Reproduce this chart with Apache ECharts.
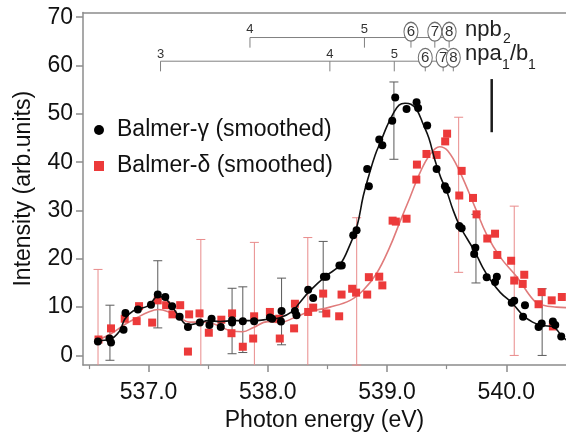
<!DOCTYPE html>
<html>
<head>
<meta charset="utf-8">
<script src="https://cdn.jsdelivr.net/npm/echarts@6/dist/echarts.min.js"></script>
<style>html,body{margin:0;padding:0;background:#fff;}#c{width:566px;height:437px;}</style>
</head>
<body>
<div id="c"></div>
<script>
// ---- data ----
const gammaE = [536.575,536.672,536.685,536.79,536.806,536.91,537.02,537.077,537.14,537.197,537.26,537.33,537.43,537.51,537.528,537.605,537.70,537.70,537.79,537.885,538.017,538.036,538.11,538.115,538.227,538.24,538.338,538.38,538.47,538.49,538.60,538.62,538.716,538.744,538.833,538.847,538.934,538.96,539.043,539.068,539.163,539.247,539.26,539.336,539.415,539.485,539.50,539.605,539.625,539.73,539.74,539.835,539.905,539.92,540.045,540.066,540.14,540.156,540.27,540.296,540.39,540.41,540.46];
const gammaV = [2.9,3.5,2.7,5.3,8.8,9.5,10.5,12.6,12.1,10.2,8.0,5.9,6.8,6.3,7.6,5.9,7.3,6.8,7.1,7.1,7.85,7.6,7.0,9.2,9.2,8.3,13.6,11.9,16.3,16.3,18.6,18.6,24.9,25.9,38.6,35.0,44.7,43.5,48.6,53.4,51.0,52.4,51.2,47.6,38.6,35.0,34.3,26.8,26.3,21.0,22.3,16.2,15.2,16.3,10.9,11.3,8.0,10.4,5.9,6.6,7.0,6.3,3.9];

const deltaE = [536.58,536.685,536.80,536.90,536.92,537.03,537.077,537.147,537.20,537.265,537.33,537.34,537.427,537.505,537.61,537.695,537.70,537.79,537.877,537.885,538.017,538.095,538.10,538.22,538.227,538.338,538.38,538.464,538.49,538.598,538.618,538.707,538.74,538.833,538.847,538.934,538.96,539.046,539.073,539.163,539.245,539.25,539.33,539.415,539.487,539.503,539.605,539.625,539.72,539.75,539.84,539.905,539.924,540.04,540.066,540.137,540.15,540.27,540.296,540.38,540.39,540.465];
const deltaV = [3.3,5.6,7.6,7.1,10.2,6.8,11.4,10.4,8.5,10.4,0.8,8.5,8.7,4.7,7.4,4.6,8.7,1.8,3.5,8.1,9.0,7.6,3.5,5.6,10.7,9.0,9.9,12.8,8.7,8.1,12.6,13.8,13.0,12.6,16.2,16.3,14.5,27.9,27.7,28.3,36.4,39.5,41.7,41.5,44.3,45.9,33.1,38.2,32.6,29.2,24.2,25.2,20.8,19.6,15.5,14.8,16.7,10.6,13.1,11.4,6.0,12.1];

const gammaFitE = [536.575,536.672,536.756,536.80,536.87,537.0,537.077,537.13,537.2,537.26,537.33,537.42,537.5,537.6,537.7,537.8,537.9,538.0,538.1,538.2,538.27,538.35,538.49,538.60,538.69,538.75,538.80,538.85,538.90,538.95,539.00,539.05,539.10,539.15,539.20,539.25,539.30,539.35,539.40,539.45,539.50,539.55,539.605,539.67,539.74,539.80,539.87,539.95,540.05,540.14,540.22,540.30,540.39,540.45,540.5];
const gammaFitV = [3.1,3.3,5.0,7.5,9.2,10.3,12.2,12.0,10.0,7.9,6.3,6.7,7.2,7.0,7.2,7.2,7.2,7.5,7.8,9.0,11.0,13.3,16.5,18.6,23.0,27.0,33.0,37.5,41.5,44.5,47.5,50.0,51.8,52.2,52.0,50.8,48.0,45.0,40.5,36.8,34.0,30.3,27.0,24.2,21.3,18.3,15.5,13.0,10.8,8.3,6.9,6.2,6.0,4.5,3.2];

const deltaFitE = [536.574,536.685,536.80,536.91,537.0,537.08,537.17,537.26,537.34,537.45,537.51,537.60,537.70,537.79,537.88,538.00,538.10,538.22,538.34,538.52,538.69,538.80,538.91,539.02,539.11,539.19,539.275,539.36,539.44,539.51,539.61,539.74,539.835,539.95,540.09,540.23,540.31,540.42,540.5];
const deltaFitV = [3.2,4.5,6.4,7.9,9.0,9.5,9.0,7.9,6.9,6.9,6.8,6.0,5.0,4.9,5.8,7.0,6.8,7.8,9.0,10.0,11.4,13.5,16.9,22.3,27.8,32.6,37.8,41.6,43.2,42.3,38.0,30.5,25.0,20.3,16.2,11.4,10.4,10.0,9.9];

const gammaErrE  = [536.676,537.077,537.70,537.79,538.115,538.464,539.057,539.745,540.30];
const gammaErrLo = [-1.0,5.7,0.35,0.6,2.2,9.0,40.6,15.0,0.0];
const gammaErrHi = [10.4,19.6,13.9,14.2,16.0,23.6,56.6,29.2,13.8];

const deltaErrE  = [536.576,537.438,537.887,538.335,538.745,539.60,540.066];
const deltaErrLo = [-12,-6.6,-7,-6,-2,17.2,0.0];
const deltaErrHi = [17.8,24.0,23.4,24.4,28.5,49.3,30.9];

const npb2E = [537.85,538.81,539.20,539.40,539.52];
const npb2Labels = ['4','5','6','7','8'];
const npaE = [537.10,538.52,539.06,539.32,539.47,539.555];
const npaLabels = ['3','4','5','6','7','8'];

const markerE = 539.877, markerLo = 46.2, markerHi = 57.2;

const xTicks = [537,538,539,540];
const xMinorTicks = [536.5,537.5,538.5,539.5];
const yTicks = [0,10,20,30,40,50,60,70];

// ---- chart ----
const FONT = "'Liberation Sans', Arial, Helvetica, sans-serif";
const XMIN = 536.45, XMAX = 540.5, YMIN = -2, YMAX = 71;
const axisGray = '#8c8c8c';

function zip(a, b) { return a.map((v, i) => [v, b[i]]); }
function zip3(a, b, c) { return a.map((v, i) => [v, b[i], c[i]]); }

function errRender(color, hw) {
  return function (params, api) {
    const x = api.value(0);
    let lo = api.value(1), hi = api.value(2);
    const clipLo = lo < YMIN;
    if (clipLo) lo = YMIN;
    const t = api.coord([x, hi]);
    const b = api.coord([x, lo]);
    const st = { stroke: color, lineWidth: 1 };
    const ch = [
      { type: 'line', shape: { x1: t[0], y1: t[1], x2: b[0], y2: b[1] }, style: st },
      { type: 'line', shape: { x1: t[0] - hw, y1: t[1], x2: t[0] + hw, y2: t[1] }, style: st }
    ];
    if (!clipLo) ch.push({ type: 'line', shape: { x1: b[0] - hw, y1: b[1], x2: b[0] + hw, y2: b[1] }, style: st });
    return { type: 'group', children: ch };
  };
}

function textEl(x, y, text, size, color, align) {
  return { type: 'text', x: x, y: y, style: { text: text, fill: color, font: size + 'px ' + FONT,
    align: align || 'center', verticalAlign: 'middle', textAlign: align || 'center', textVerticalAlign: 'middle' } };
}

function ladder(api, E, labels, lineV, tickV, labelV, circV, circledFrom) {
  const ch = [];
  const st = { stroke: '#808080', lineWidth: 1 };
  const a = api.coord([E[0], lineV]), z = api.coord([E[E.length - 1], lineV]);
  ch.push({ type: 'line', shape: { x1: a[0], y1: a[1], x2: z[0], y2: z[1] }, style: st });
  E.forEach((e, i) => {
    const p = api.coord([e, lineV]), q = api.coord([e, tickV]);
    ch.push({ type: 'line', shape: { x1: p[0], y1: p[1], x2: q[0], y2: q[1] }, style: st });
    if (i >= circledFrom) {
      const c = api.coord([e, circV]);
      ch.push({ type: 'circle', x: c[0], y: c[1], scaleY: 1.35, shape: { cx: 0, cy: 0, r: 7 },
        style: { fill: '#fff', stroke: '#707070', lineWidth: 1 } });
      ch.push(textEl(c[0], c[1] + 0.5, labels[i], 15, '#333'));
    } else {
      const c = api.coord([e, labelV]);
      ch.push(textEl(c[0], c[1], labels[i], 13, '#333'));
    }
  });
  return ch;
}

function annotRender(params, api) {
  let ch = [];
  ch = ch.concat(ladder(api, npaE, npaLabels, 60.9, 58.8, 62.4, 61.6, 3));
  ch = ch.concat(ladder(api, npb2E, npb2Labels, 65.8, 63.7, 67.5, 67.0, 2));
  const n1 = api.coord([539.653, 66.0]);
  ch.push(textEl(n1[0], n1[1] - 7, 'npb', 22, '#222', 'left'));
  ch.push(textEl(n1[0] + 38, n1[1] + 3, '2', 14, '#222', 'left'));
  const n2 = api.coord([539.653, 60.9]);
  ch.push(textEl(n2[0], n2[1] - 7, 'npa', 22, '#222', 'left'));
  ch.push(textEl(n2[0] + 37, n2[1] + 4, '1', 14, '#222', 'left'));
  ch.push(textEl(n2[0] + 45, n2[1] - 7, '/b', 22, '#222', 'left'));
  ch.push(textEl(n2[0] + 63, n2[1] + 4, '1', 14, '#222', 'left'));
  const m1 = api.coord([markerE, markerHi]), m2 = api.coord([markerE, markerLo]);
  ch.push({ type: 'line', shape: { x1: m1[0], y1: m1[1], x2: m2[0], y2: m2[1] }, style: { stroke: '#1a1a1a', lineWidth: 2.5 } });
  return { type: 'group', children: ch };
}

const chart = echarts.init(document.getElementById('c'), null, { renderer: 'canvas' });
chart.setOption({
  animation: false,
  backgroundColor: '#fff',
  textStyle: { fontFamily: FONT },
  grid: { left: 83, right: 0, top: 12.4, bottom: 68.2, containLabel: false },
  legend: {
    orient: 'vertical', left: 89, top: 113, itemGap: 12, itemWidth: 26, itemHeight: 10,
    symbolKeepAspect: true,
    textStyle: { fontSize: 23, color: '#111', fontFamily: FONT, lineHeight: 24 },
    data: [
      { name: 'Balmer-γ (smoothed)', icon: 'circle', itemStyle: { color: '#000' } },
      { name: 'Balmer-δ (smoothed)', icon: 'path://M0,0L10,0L10,10L0,10Z', itemStyle: { color: '#ec3a3a' } }
    ]
  },
  xAxis: [
    {
      type: 'value', min: XMIN, max: XMAX, position: 'bottom',
      name: 'Photon energy (eV)', nameLocation: 'middle', nameGap: 40,
      nameTextStyle: { fontSize: 23, color: '#111', fontFamily: FONT },
      axisLine: { show: true, onZero: false, lineStyle: { color: axisGray, width: 1.5 } },
      axisTick: { show: true, length: 7, customValues: xTicks, lineStyle: { color: axisGray, width: 1.5 } },
      axisLabel: { customValues: xTicks, margin: 16, fontSize: 23, color: '#111', fontFamily: FONT,
        formatter: v => Number(v).toFixed(1) },
      splitLine: { show: false }
    },
    {
      type: 'value', min: XMIN, max: XMAX, position: 'bottom',
      axisLine: { show: false, onZero: false },
      axisTick: { show: true, length: 4, customValues: xMinorTicks, lineStyle: { color: axisGray, width: 1.2 } },
      axisLabel: { show: false },
      splitLine: { show: false }
    },
    {
      type: 'value', min: XMIN, max: XMAX, position: 'top',
      axisLine: { show: true, onZero: false, lineStyle: { color: axisGray, width: 1.5 } },
      axisTick: { show: false }, axisLabel: { show: false }, splitLine: { show: false }
    }
  ],
  yAxis: {
    type: 'value', min: YMIN, max: YMAX,
    name: 'Intensity (arb.units)', nameLocation: 'middle', nameGap: 48,
    nameTextStyle: { fontSize: 23, color: '#111', fontFamily: FONT },
    axisLine: { show: true, onZero: false, lineStyle: { color: axisGray, width: 1.5 } },
    axisTick: { show: true, length: 7, customValues: yTicks, lineStyle: { color: axisGray, width: 1.5 } },
    axisLabel: { customValues: yTicks, margin: 10, fontSize: 23, color: '#111', fontFamily: FONT },
    splitLine: { show: false }
  },
  series: [
    { type: 'custom', name: 'annot', renderItem: annotRender, data: [[XMIN, YMIN]], silent: true, z: 1 },
    { type: 'custom', name: 'errDelta', renderItem: errRender('#e98b8b', 4.5), data: zip3(deltaErrE, deltaErrLo, deltaErrHi), z: 2 },
    { type: 'custom', name: 'errGamma', renderItem: errRender('#5a5a5a', 4.5), data: zip3(gammaErrE, gammaErrLo, gammaErrHi), z: 3 },
    { type: 'line', name: 'fitDelta', data: zip(deltaFitE, deltaFitV), smooth: 0.4, showSymbol: false,
      lineStyle: { color: '#e07b7b', width: 1.6 }, z: 4 },
    { type: 'scatter', name: 'Balmer-δ (smoothed)', data: zip(deltaE, deltaV), symbol: 'rect', symbolSize: 8,
      itemStyle: { color: '#ec3a3a', opacity: 1 }, z: 5 },
    { type: 'line', name: 'fitGamma', data: zip(gammaFitE, gammaFitV), smooth: 0.4, showSymbol: false,
      lineStyle: { color: '#111', width: 1.6 }, z: 6 },
    { type: 'scatter', name: 'Balmer-γ (smoothed)', data: zip(gammaE, gammaV), symbol: 'circle', symbolSize: 8,
      itemStyle: { color: '#000', opacity: 1 }, z: 7 }
  ]
});
</script>
</body>
</html>
